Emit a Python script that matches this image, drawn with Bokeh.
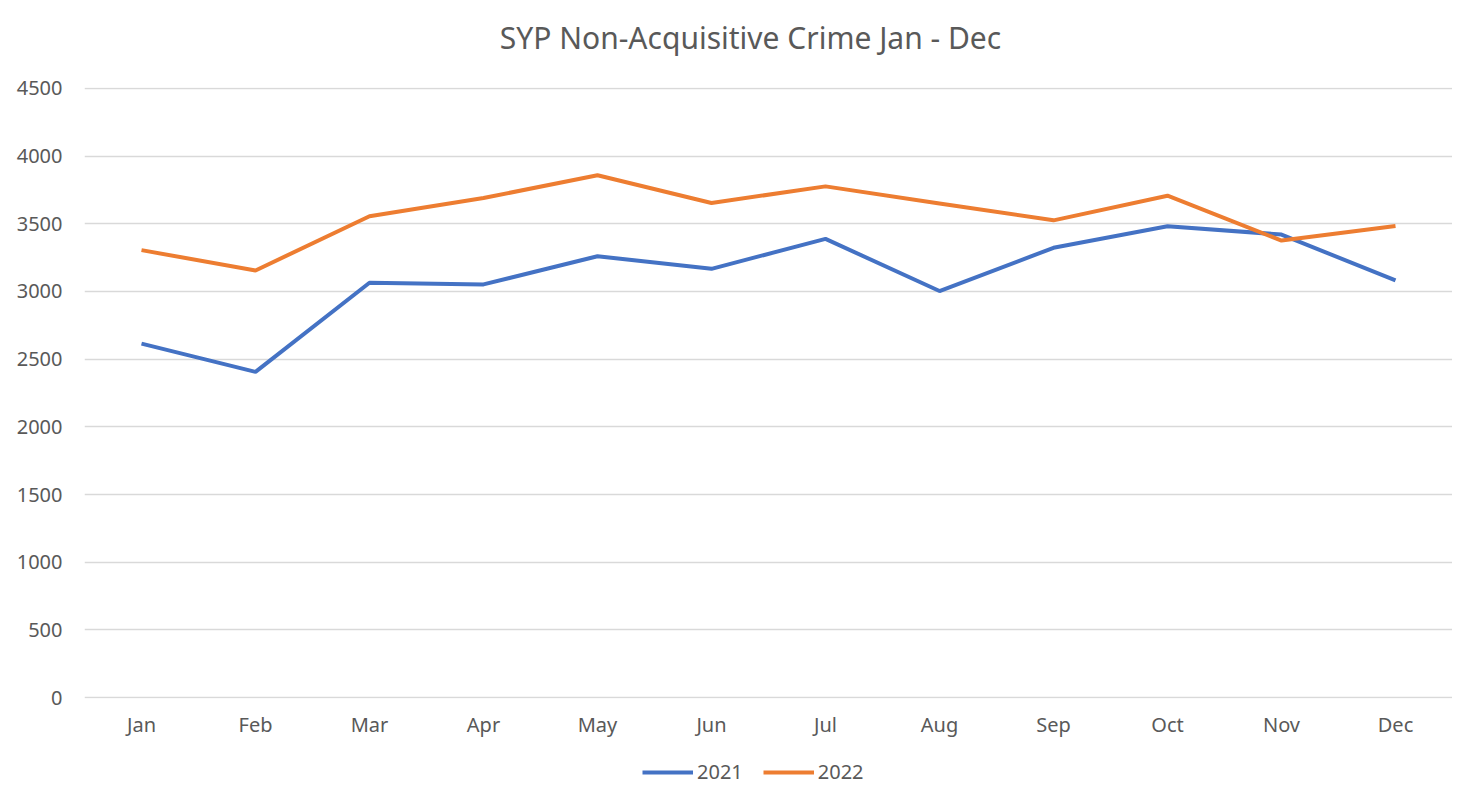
from bokeh.plotting import figure
from bokeh.layouts import column
from bokeh.models import ColumnDataSource, Legend, LegendItem, FactorRange, Range1d, Label
from bokeh.embed import file_html
from bokeh.resources import INLINE

months = ["Jan", "Feb", "Mar", "Apr", "May", "Jun", "Jul", "Aug", "Sep", "Oct", "Nov", "Dec"]
crime_2021 = [2615, 2406, 3064, 3052, 3260, 3167, 3388, 3003, 3322, 3481, 3420, 3081]
crime_2022 = [3305, 3155, 3555, 3690, 3858, 3653, 3776, 3650, 3525, 3707, 3376, 3483]
y_ticks = [0, 500, 1000, 1500, 2000, 2500, 3000, 3500, 4000, 4500]
series_names = ["2021", "2022"]
series_colors = ["#4472C4", "#ED7D31"]
title_text = "SYP Non-Acquisitive Crime Jan - Dec"

FONT = "Noto Sans"
GREY = "#595959"
W = 1452
LEFT = 84
TITLE_H = 75
LEG_H = 32
MAIN_H = 787 - TITLE_H - LEG_H


def strip(height):
    s = figure(width=W, height=height, x_range=Range1d(LEFT, W), y_range=Range1d(0, height),
               output_backend="svg", toolbar_location=None,
               x_axis_location=None, y_axis_location=None, min_border=0,
               min_border_left=0, min_border_right=0, min_border_top=0, min_border_bottom=0)
    s.outline_line_color = None
    s.grid.visible = False
    s.border_fill_color = "white"
    s.background_fill_color = "white"
    return s


# title strip
t = strip(TITLE_H)
t.add_layout(Label(x=750, y=TITLE_H - 37, text=title_text, text_align="center",
                   text_baseline="middle", text_font=FONT, text_font_size="30px",
                   text_color=GREY))

# main chart
src = ColumnDataSource(dict(month=months, y21=crime_2021, y22=crime_2022))
p = figure(width=W, height=MAIN_H, x_range=FactorRange(*months, range_padding=0),
           y_range=Range1d(-6, 4506), output_backend="svg", toolbar_location=None,
           min_border=0, min_border_left=LEFT, min_border_right=0, min_border_top=12,
           min_border_bottom=57)
p.outline_line_color = None
p.background_fill_color = "white"
p.border_fill_color = "white"
p.xgrid.grid_line_color = None
p.ygrid.grid_line_color = "#d9d9d9"
p.ygrid.grid_line_width = 1.5
p.yaxis.ticker = y_ticks
for ax in (p.xaxis, p.yaxis):
    ax.axis_line_color = None
    ax.major_tick_line_color = None
    ax.minor_tick_line_color = None
    ax.major_label_text_font = FONT
    ax.major_label_text_font_size = "20px"
    ax.major_label_text_color = GREY
p.yaxis.major_label_standoff = 16
p.xaxis.major_label_standoff = 6

p.line("month", "y21", source=src, line_color=series_colors[0], line_width=4)
p.line("month", "y22", source=src, line_color=series_colors[1], line_width=4)

# legend strip (dummy renderers lie outside the visible range)
lg = strip(LEG_H)
items = []
for name, col in zip(series_names, series_colors):
    r = lg.line(x=[-50, -40], y=[-50, -40], line_color=col, line_width=4)
    items.append(LegendItem(label=name, renderers=[r]))
legend = Legend(items=items, orientation="horizontal", location=(558, 2),
                label_text_font=FONT, label_text_font_size="20px", label_text_color=GREY,
                glyph_width=51, label_standoff=4, spacing=20,
                border_line_color=None, background_fill_alpha=0, margin=0, padding=0)
lg.add_layout(legend, "center")

layout = column(t, p, lg, spacing=0)
open("out.html", "w").write(file_html(layout, INLINE))
